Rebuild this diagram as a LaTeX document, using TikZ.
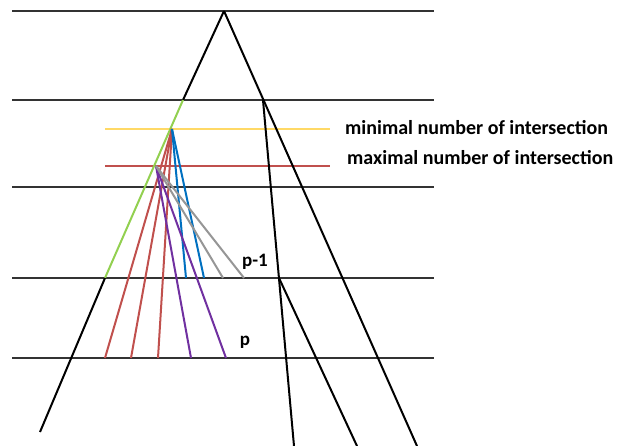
\documentclass[tikz,border=0pt]{standalone}
\usepackage{fontspec}
\setmainfont{Carlito}
\usetikzlibrary{calc}
\definecolor{minline}{RGB}{255,217,102}
\definecolor{maxline}{RGB}{192,80,77}
\definecolor{fanblue}{RGB}{0,112,192}
\definecolor{fanpurple}{RGB}{112,48,160}
\definecolor{fangray}{RGB}{150,150,150}
\definecolor{sidegreen}{RGB}{146,208,80}

\begin{document}
\begin{tikzpicture}[x=1pt,y=-1pt,
    level/.style={draw=black!80,line width=1.2pt},
    side/.style={draw=black,line width=2pt},
    hline/.style={line width=1.5pt},
    fan/.style={line width=2pt},
    lbl/.style={font=\fontsize{20}{24}\selectfont\bfseries,inner sep=0pt},
    plbl/.style={font=\fontsize{19}{22}\selectfont\bfseries,inner sep=0pt}]
   \useasboundingbox (0,0) rectangle (624,446);
   % levels
   \foreach \y in {11,100,187,278,358}
     \draw[level] (12,\y) -- (434,\y);
   \draw[hline,draw=minline] (105,129) -- (330,129);
   \draw[hline,draw=maxline] (105,166) -- (330,166);
   \node[lbl,anchor=west] (minl) at (345,128) {minimal number of intersection};
   \node[lbl,anchor=west] (maxl) at (347,158) {maximal number of intersection};
   % tree
   \coordinate (top) at (224,11);
   \coordinate (lA) at (183,100);
   \coordinate (lB) at (105,278);
   \coordinate (lC) at (40,432);
   \coordinate (rA) at (263,100);
   \coordinate (rB) at (279,278);
   \draw[side] (top)--(lA);
   \draw[side,draw=sidegreen] (lA)--(lB);
   \draw[side] (lB)--(lC);
   \draw[side] (top)--(417,446);
   \draw[side] (rA)--(294,446);
   \draw[side] (rB)--(357,446);
   % fans
   \coordinate (ymin) at (172,129);
   \coordinate (ymax) at (156,166);
   \foreach \x in {105,131,158}
     \draw[fan,draw=maxline] (ymin)--(\x,358);
   \foreach \x in {186,204}
     \draw[fan,draw=fanblue] (ymin)--(\x,278);
   \foreach \x in {191,226}
     \draw[fan,draw=fanpurple] (ymax)--(\x,358);
   \foreach \x in {223,244}
     \draw[fan,draw=fangray] (ymax)--(\x,278);
   \node[plbl] (pm1) at (255,262) {p-1};
   \node[plbl] (pl) at (245,342) {p};
  \end{tikzpicture}
\end{document}
